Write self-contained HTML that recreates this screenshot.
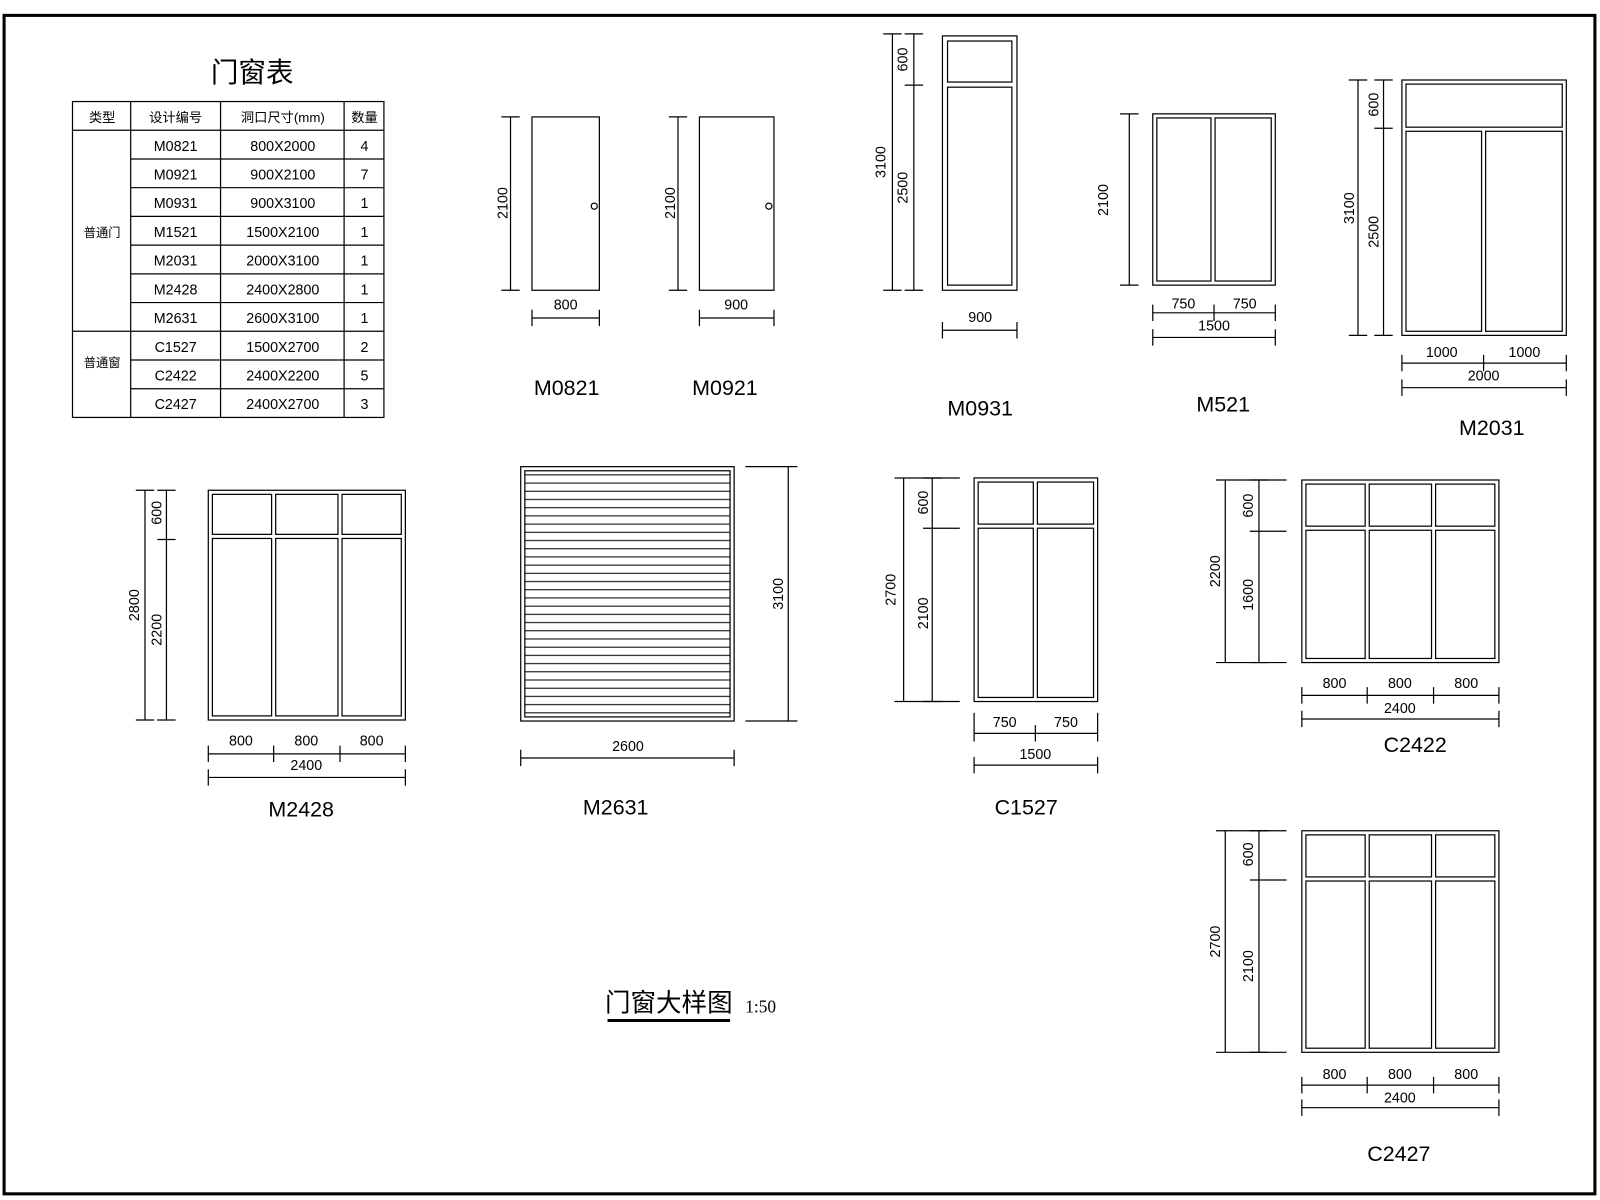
<!DOCTYPE html>
<html><head><meta charset="utf-8"><style>
html,body{margin:0;padding:0;background:#fff;}
svg{display:block;}
text{font-family:"Liberation Sans","Noto Sans CJK SC",sans-serif;fill:#000;}
.d{font-size:14px;text-anchor:middle;}
.l{font-size:21px;text-anchor:middle;}
.t{font-size:14px;text-anchor:middle;}
</style></head><body>
<svg width="1600" height="1200" viewBox="0 0 1567 1170" preserveAspectRatio="none" xmlns="http://www.w3.org/2000/svg">
<defs>
<pattern id="sl" x="0" y="459" width="10" height="8" patternUnits="userSpaceOnUse"><line x1="0" y1="4" x2="10" y2="4" stroke="#000" stroke-width="1"/></pattern>
</defs>
<rect x="0" y="0" width="1567" height="1170" fill="#fff"/>
<rect x="4" y="15" width="1558" height="1149" fill="none" stroke="#000" stroke-width="3"/>
<g fill="none" stroke="#000" stroke-width="1.2">
<!-- table -->
<rect x="71" y="99" width="305" height="308"/>
<line x1="128" y1="99" x2="128" y2="407"/><line x1="216" y1="99" x2="216" y2="407"/><line x1="337" y1="99" x2="337" y2="407"/>
<line x1="71" y1="127" x2="376" y2="127"/>
<line x1="128" y1="155" x2="376" y2="155"/><line x1="128" y1="183" x2="376" y2="183"/><line x1="128" y1="211" x2="376" y2="211"/><line x1="128" y1="239" x2="376" y2="239"/><line x1="128" y1="267" x2="376" y2="267"/><line x1="128" y1="295" x2="376" y2="295"/>
<line x1="71" y1="323" x2="376" y2="323"/>
<line x1="128" y1="351" x2="376" y2="351"/><line x1="128" y1="379" x2="376" y2="379"/>

<!-- M0821 -->
<rect x="521" y="114" width="66" height="169"/><circle cx="582" cy="201" r="3"/>
<path d="M500 114V283M491 114H509M491 283H509"/>
<path d="M521 310H587M521 302V318M587 302V318"/>
<!-- M0921 -->
<rect x="685" y="114" width="73" height="169"/><circle cx="753" cy="201" r="3"/>
<path d="M664 114V283M655 114H673M655 283H673"/>
<path d="M685 310H758M685 302V318M758 302V318"/>
<!-- M0931 -->
<rect x="923" y="35" width="73" height="248"/>
<rect x="928" y="40" width="63" height="40"/><rect x="928" y="85" width="63" height="193"/>
<path d="M874 33V283M865 33H883M865 283H883"/>
<path d="M895 33V283M886 33H904M886 83H904M886 283H904"/>
<path d="M923 322H996M923 314V330M996 314V330"/>
<!-- M521 -->
<rect x="1129" y="111" width="120" height="167"/>
<rect x="1133" y="115" width="53" height="159"/><rect x="1190" y="115" width="55" height="159"/>
<path d="M1106 111V278M1097 111H1115M1097 278H1115"/>
<path d="M1129 305H1249M1129 297V313M1189 297V313M1249 297V313"/>
<path d="M1129 329H1249M1129 321V337M1249 321V337"/>
<!-- M2031 -->
<rect x="1373" y="78" width="161" height="249"/>
<rect x="1377" y="82" width="153" height="42"/>
<rect x="1377" y="128" width="74" height="195"/><rect x="1455" y="128" width="75" height="195"/>
<path d="M1330 78V327M1321 78H1339M1321 327H1339"/>
<path d="M1355 78V327M1346 78H1364M1346 125H1364M1346 327H1364"/>
<path d="M1373 354H1534M1373 346V362M1453 346V362M1534 346V362"/>
<path d="M1373 378H1534M1373 370V386M1534 370V386"/>
<!-- M2428 -->
<rect x="204" y="478" width="193" height="224"/>
<rect x="208" y="482" width="58" height="39"/><rect x="270" y="482" width="61" height="39"/><rect x="335" y="482" width="58" height="39"/>
<rect x="208" y="525" width="58" height="173"/><rect x="270" y="525" width="61" height="173"/><rect x="335" y="525" width="58" height="173"/>
<path d="M142 478V702M133 478H151M133 702H151"/>
<path d="M163 478V702M154 478H172M154 526H172M154 702H172"/>
<path d="M204 735H397M204 727V743M268 727V743M333 727V743M397 727V743"/>
<path d="M204 758H397M204 750V766M397 750V766"/>
<!-- M2631 -->
<rect x="510" y="455" width="209" height="248"/>
<rect x="514" y="459" width="201" height="240" fill="url(#sl)"/>
<path d="M772 455V703M730 455H781M730 703H781"/>
<path d="M510 739H719M510 731V747M719 731V747"/>
<!-- C1527 -->
<rect x="954" y="466" width="121" height="218"/>
<rect x="958" y="470" width="54" height="41"/><rect x="1016" y="470" width="55" height="41"/>
<rect x="958" y="515" width="54" height="165"/><rect x="1016" y="515" width="55" height="165"/>
<path d="M885 466V684M876 466H940M876 684H940"/>
<path d="M913 466V684M904 466H922M904 515H940M904 684H922"/>
<path d="M954 715H1075M954 695V723M1014 707V723M1075 695V723"/>
<path d="M954 746H1075M954 738V754M1075 738V754"/>
<!-- C2422 -->
<rect x="1275" y="468" width="193" height="178"/>
<rect x="1279" y="472" width="58" height="41"/><rect x="1341" y="472" width="61" height="41"/><rect x="1406" y="472" width="58" height="41"/>
<rect x="1279" y="517" width="58" height="125"/><rect x="1341" y="517" width="61" height="125"/><rect x="1406" y="517" width="58" height="125"/>
<path d="M1200 468V646M1191 468H1260M1191 646H1260"/>
<path d="M1233 468V646M1224 468H1242M1224 518H1260M1224 646H1242"/>
<path d="M1275 678H1468M1275 670V686M1339 670V686M1404 670V686M1468 670V686"/>
<path d="M1275 701H1468M1275 693V709M1468 693V709"/>
<!-- C2427 -->
<rect x="1275" y="810" width="193" height="216"/>
<rect x="1279" y="814" width="58" height="41"/><rect x="1341" y="814" width="61" height="41"/><rect x="1406" y="814" width="58" height="41"/>
<rect x="1279" y="859" width="58" height="163"/><rect x="1341" y="859" width="61" height="163"/><rect x="1406" y="859" width="58" height="163"/>
<path d="M1200 810V1026M1191 810H1260M1191 1026H1260"/>
<path d="M1233 810V1026M1224 810H1242M1224 858H1260M1224 1026H1242"/>
<path d="M1275 1058H1468M1275 1050V1066M1339 1050V1066M1404 1050V1066M1468 1050V1066"/>
<path d="M1275 1080H1468M1275 1072V1088M1468 1072V1088"/>
</g>
<line x1="595" y1="995" x2="715" y2="995" stroke="#000" stroke-width="3"/>

<!-- table text -->
<text x="247" y="80" font-size="27" text-anchor="middle">门窗表</text>
<g class="t">
<text x="100" y="119" font-size="13">类型</text><text x="172" y="119" font-size="13">设计编号</text><text x="277" y="119" font-size="13">洞口尺寸(mm)</text><text x="357" y="119" font-size="13">数量</text>
<text x="172" y="147">M0821</text><text x="277" y="147">800X2000</text><text x="357" y="147">4</text>
<text x="172" y="175">M0921</text><text x="277" y="175">900X2100</text><text x="357" y="175">7</text>
<text x="172" y="203">M0931</text><text x="277" y="203">900X3100</text><text x="357" y="203">1</text>
<text x="172" y="231">M1521</text><text x="277" y="231">1500X2100</text><text x="357" y="231">1</text>
<text x="172" y="259">M2031</text><text x="277" y="259">2000X3100</text><text x="357" y="259">1</text>
<text x="172" y="287">M2428</text><text x="277" y="287">2400X2800</text><text x="357" y="287">1</text>
<text x="172" y="315">M2631</text><text x="277" y="315">2600X3100</text><text x="357" y="315">1</text>
<text x="172" y="343">C1527</text><text x="277" y="343">1500X2700</text><text x="357" y="343">2</text>
<text x="172" y="371">C2422</text><text x="277" y="371">2400X2200</text><text x="357" y="371">5</text>
<text x="172" y="399">C2427</text><text x="277" y="399">2400X2700</text><text x="357" y="399">3</text>
<text x="100" y="231" font-size="12">普通门</text><text x="100" y="358" font-size="12">普通窗</text>
</g>

<g class="d">
<text transform="translate(497,198) rotate(-90)">2100</text>
<text x="554" y="302">800</text>
<text transform="translate(661,198) rotate(-90)">2100</text>
<text x="721" y="302">900</text>
<text transform="translate(867,158) rotate(-90)">3100</text>
<text transform="translate(889,58) rotate(-90)">600</text>
<text transform="translate(889,183) rotate(-90)">2500</text>
<text x="960" y="314">900</text>
<text transform="translate(1085,195) rotate(-90)">2100</text>
<text x="1159" y="301">750</text><text x="1219" y="301">750</text><text x="1189" y="322">1500</text>
<text transform="translate(1326,203) rotate(-90)">3100</text>
<text transform="translate(1350,102) rotate(-90)">600</text>
<text transform="translate(1350,226) rotate(-90)">2500</text>
<text x="1412" y="348">1000</text><text x="1493" y="348">1000</text><text x="1453" y="371">2000</text>
<text transform="translate(136,590) rotate(-90)">2800</text>
<text transform="translate(158,500) rotate(-90)">600</text>
<text transform="translate(158,614) rotate(-90)">2200</text>
<text x="236" y="727">800</text><text x="300" y="727">800</text><text x="364" y="727">800</text><text x="300" y="751">2400</text>
<text transform="translate(767,579) rotate(-90)">3100</text>
<text x="615" y="732">2600</text>
<text transform="translate(877,575) rotate(-90)">2700</text>
<text transform="translate(909,490) rotate(-90)">600</text>
<text transform="translate(909,598) rotate(-90)">2100</text>
<text x="984" y="709">750</text><text x="1044" y="709">750</text><text x="1014" y="740">1500</text>
<text transform="translate(1195,557) rotate(-90)">2200</text>
<text transform="translate(1227,493) rotate(-90)">600</text>
<text transform="translate(1227,580) rotate(-90)">1600</text>
<text x="1307" y="671">800</text><text x="1371" y="671">800</text><text x="1436" y="671">800</text><text x="1371" y="695">2400</text>
<text transform="translate(1195,918) rotate(-90)">2700</text>
<text transform="translate(1227,833) rotate(-90)">600</text>
<text transform="translate(1227,942) rotate(-90)">2100</text>
<text x="1307" y="1052">800</text><text x="1371" y="1052">800</text><text x="1436" y="1052">800</text><text x="1371" y="1075">2400</text>
</g>
<g class="l">
<text x="555" y="385">M0821</text><text x="710" y="385">M0921</text><text x="960" y="405">M0931</text>
<text x="1198" y="401">M521</text><text x="1461" y="424">M2031</text><text x="295" y="796">M2428</text>
<text x="603" y="794">M2631</text><text x="1005" y="794">C1527</text><text x="1386" y="733">C2422</text><text x="1370" y="1132">C2427</text>
</g>
<text x="655" y="986" font-size="25" text-anchor="middle">门窗大样图</text>
<text x="745" y="987" font-size="17" text-anchor="middle" style="font-family:'Liberation Serif',serif">1:50</text>
</svg>
</body></html>
